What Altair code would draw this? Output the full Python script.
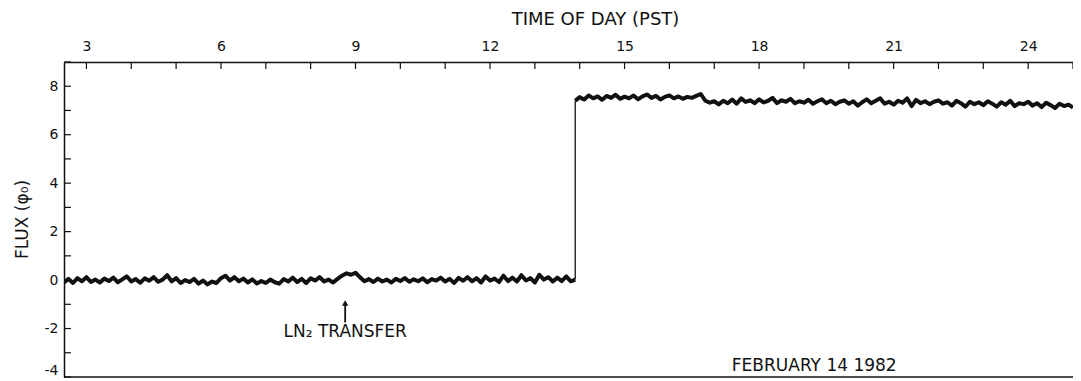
import altair as alt
import pandas as pd

FONT = "DejaVu Sans"
INK = "#111111"

# sampling grid of the recorded trace (hours, PST)
LOW_START = 2.5
HIGH_START = 13.9
STEP = 0.1

# flux (in flux quanta) before the event, one value every 0.1 h from 2.5 h to 13.9 h
low_flux = [
    -0.10, 0.05, -0.12, 0.08, -0.05, 0.12, -0.08, 0.02, -0.10, 0.06,
    -0.04, 0.10, -0.09, 0.03, 0.15, -0.06, 0.04, -0.11, 0.07, -0.03,
    0.12, -0.07, 0.02, 0.20, -0.05, 0.08, -0.12, 0.00, -0.08, 0.05,
    -0.15, -0.02, -0.18, -0.06, -0.12, 0.08, 0.18, -0.02, 0.12, -0.05,
    0.06, -0.10, 0.03, -0.14, -0.04, -0.12, 0.02, -0.09, -0.15, 0.04,
    -0.06, 0.10, -0.08, 0.05, -0.12, 0.07, -0.02, 0.12, -0.06, 0.02,
    -0.10, 0.05, 0.18, 0.28, 0.22, 0.30, 0.12, -0.05, 0.04, -0.08,
    0.06, -0.06, 0.02, -0.10, 0.05, -0.04, 0.08, -0.07, 0.03, -0.05,
    0.07, -0.09, 0.04, -0.02, 0.10, -0.06, 0.05, -0.12, 0.09, -0.03,
    0.12, -0.05, 0.08, -0.10, 0.15, -0.02, 0.06, -0.08, 0.18, -0.04,
    0.10, -0.06, 0.20, -0.02, 0.08, -0.10, 0.22, 0.02, 0.12, -0.06,
    0.10, -0.04, 0.15, -0.05, 0.02,
]

# flux after the jump, one value every 0.1 h from 13.9 h to 25.0 h
high_flux = [
    7.40,
    7.55, 7.45, 7.62, 7.50, 7.58, 7.44, 7.60, 7.52, 7.65, 7.48,
    7.57, 7.50, 7.62, 7.46, 7.58, 7.66, 7.52, 7.60, 7.45, 7.56,
    7.62, 7.50, 7.58, 7.48, 7.56, 7.52, 7.60, 7.68, 7.40, 7.32,
    7.38, 7.25, 7.40, 7.30, 7.45, 7.28, 7.50, 7.35, 7.42, 7.30,
    7.46, 7.33, 7.40, 7.52, 7.30, 7.42, 7.36, 7.48, 7.30, 7.38,
    7.32, 7.44, 7.28, 7.38, 7.46, 7.30, 7.40, 7.26, 7.36, 7.42,
    7.28, 7.38, 7.20, 7.34, 7.46, 7.30, 7.40, 7.50, 7.28, 7.36,
    7.24, 7.40, 7.32, 7.50, 7.18, 7.44, 7.30, 7.38, 7.26, 7.36,
    7.42, 7.28, 7.34, 7.20, 7.40, 7.30, 7.16, 7.36, 7.26, 7.34,
    7.22, 7.38, 7.28, 7.16, 7.34, 7.24, 7.40, 7.18, 7.30, 7.26,
    7.36, 7.20, 7.30, 7.14, 7.32, 7.22, 7.10, 7.28, 7.18, 7.24,
    7.12,
]

x_tick_hours = list(range(3, 26))
x_label_hours = [3, 6, 9, 12, 15, 18, 21, 24]
y_tick_values = list(range(-4, 10))
y_label_values = [-4, -2, 0, 2, 4, 6, 8]

note_labels = ["LN\u2082 TRANSFER", "FEBRUARY 14 1982"]
note_hours = [8.77, 19.23]
note_flux = [-2.15, -3.53]

arrow_hour = [8.77]
arrow_tip = [-0.95]
arrow_tail = [-1.75]

rows = []
for i, v in enumerate(low_flux):
    rows.append({"t": round(LOW_START + STEP * i, 2), "flux": v, "seg": "before"})
for i, v in enumerate(high_flux):
    rows.append({"t": round(HIGH_START + STEP * i, 2), "flux": v, "seg": "after"})
trace = pd.DataFrame(rows)
trace["i"] = range(len(trace))

jump = pd.DataFrame({"t": [HIGH_START], "flux": [low_flux[-1]], "flux2": [high_flux[0]]})

W, H = 1009, 315
xs = alt.Scale(domain=[2.5, 25.0], nice=False, zero=False)
ys = alt.Scale(domain=[-4, 9], nice=False, zero=False)

x_axis = alt.Axis(
    orient="top",
    values=x_label_hours,
    format="d",
    title="TIME OF DAY (PST)",
    tickSize=0,
    labelPadding=9,
    grid=False,
    domainColor=INK,
    domainWidth=1.5,
    labelColor=INK,
    labelFont=FONT,
    labelFontSize=14,
    titleColor=INK,
    titleFont=FONT,
    titleFontSize=18,
    titleFontWeight="normal",
    titleX=531,
    titleY=-43,
    titleAlign="center",
    titleBaseline="middle",
)
y_axis = alt.Axis(
    values=y_label_values,
    labelExpr="'' + datum.value",
    labelFlush=True,
    title="FLUX (\u03c6\u2080)",
    tickSize=0,
    labelPadding=6,
    grid=False,
    domainColor=INK,
    domainWidth=1.5,
    labelColor=INK,
    labelFont=FONT,
    labelFontSize=14,
    titleColor=INK,
    titleFont=FONT,
    titleFontSize=17,
    titleFontWeight="normal",
    titleX=-42,
    titleY=157,
    titleAlign="center",
    titleBaseline="middle",
)

X = lambda f: alt.X(f, scale=xs, axis=x_axis)
Y = lambda f: alt.Y(f, scale=ys, axis=y_axis)

line = alt.Chart(trace).mark_line(
    color=INK, strokeWidth=4, clip=True, strokeJoin="round"
).encode(
    x=X("t:Q"),
    y=Y("flux:Q"),
    detail="seg:N",
    order="i:Q",
)

jump_rule = alt.Chart(jump).mark_rule(color=INK, strokeWidth=1.3).encode(
    x=X("t:Q"),
    y=Y("flux:Q"),
    y2="flux2:Q",
)

xticks = alt.Chart(pd.DataFrame({"t": x_tick_hours})).mark_rule(
    color=INK, strokeWidth=1.2
).encode(
    x=X("t:Q"),
    y=alt.value(0),
    y2=alt.value(7),
)

yticks = alt.Chart(pd.DataFrame({"flux": y_tick_values})).mark_rule(
    color=INK, strokeWidth=1.2
).encode(
    y=Y("flux:Q"),
    x=alt.value(0),
    x2=alt.value(7),
)

bottom = alt.Chart(pd.DataFrame({"flux": [-4]})).mark_rule(
    color=INK, strokeWidth=1.5
).encode(
    y=Y("flux:Q"),
    x=alt.value(0),
    x2=alt.value(W),
)

notes = alt.Chart(
    pd.DataFrame({"label": note_labels, "t": note_hours, "flux": note_flux})
).mark_text(font=FONT, fontSize=17, color=INK, align="center", baseline="middle").encode(
    x=X("t:Q"),
    y=Y("flux:Q"),
    text="label:N",
)

arrow_df = pd.DataFrame({"t": arrow_hour, "flux": arrow_tip, "flux2": arrow_tail})
arrow_shaft = alt.Chart(arrow_df).mark_rule(color=INK, strokeWidth=1.8).encode(
    x=X("t:Q"),
    y=Y("flux:Q"),
    y2="flux2:Q",
)
arrow_head = alt.Chart(arrow_df).mark_point(
    shape="triangle-up", filled=True, color=INK, size=40, opacity=1
).encode(
    x=X("t:Q"),
    y=Y("flux:Q"),
)

chart = (
    alt.layer(line, jump_rule, xticks, yticks, bottom, notes, arrow_shaft, arrow_head)
    .properties(
        width=W,
        height=H,
        autosize=alt.AutoSizeParams(type="none"),
        padding={"left": 56, "top": 54, "right": 0, "bottom": 2},
        background="white",
    )
    .configure_view(stroke=None)
)

chart.save("out.html", embed_options={"renderer": "svg", "actions": False})
